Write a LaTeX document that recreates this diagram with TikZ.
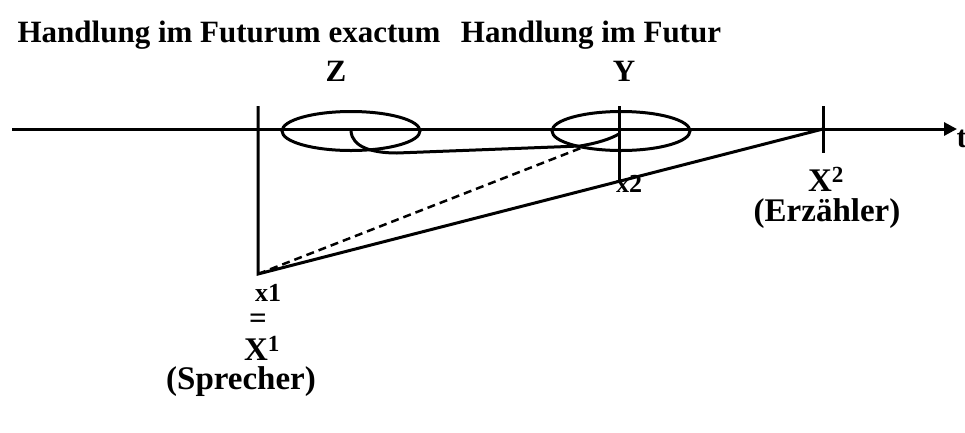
\documentclass[tikz,border=0pt]{standalone}
\usepackage{fontspec}
\setmainfont{Liberation Serif}
\usetikzlibrary{arrows.meta,shapes.geometric}

\begin{document}
\begin{tikzpicture}[x=1pt,y=-1pt,line width=3pt,
    txt/.style={font=\bfseries\fontsize{31}{31}\selectfont,inner sep=0pt},
    gross/.style={font=\bfseries\fontsize{33}{33}\selectfont,inner sep=0pt},
    klein/.style={font=\bfseries\fontsize{26}{26}\selectfont,inner sep=0pt},
    handlung/.style={draw,ellipse,minimum width=138pt,minimum height=39pt,inner sep=0pt}]
    \useasboundingbox (0,0) rectangle (965,432);

    % Zeitachse
    \coordinate (a0) at (12,129);
    \coordinate (a1) at (957,129);
    \draw[-{Triangle[length=13pt,width=13pt]}] (a0) -- (a1);
    \node[txt,anchor=west] (t) at (955,139) {t};

    % Striche und Punkte
    \coordinate (top1) at (258,106);
    \coordinate (x1) at (258,274);
    \coordinate (topY) at (619,106);
    \coordinate (x2) at (619,181);
    \coordinate (top2) at (823,106);
    \coordinate (X2) at (823,129);
    \coordinate (bot2) at (823,153);

    % Handlungen Z und Y
    \node[handlung] (Zell) at (351,131) {};
    \node[handlung] (Yell) at (621,131) {};
    \coordinate (k1) at (397,153);
    \coordinate (k2) at (580,146);
    \coordinate (k3) at (619,134);

    \draw (top1) -- (x1) -- (X2);
    \draw (top2) -- (bot2);
    \draw (topY) -- (x2);
    \draw[dash pattern=on 8pt off 5pt,line width=2.5pt] (x1) -- (Yell.203);
    \draw (Zell.center) .. controls (352,147) and (372,153) .. (k1) -- (k2)
        .. controls (598,143) and (610,139) .. (k3);

    % Beschriftungen
    \node[txt] (h1) at (229,35) {Handlung im Futurum exactum};
    \node[txt] (h2) at (591,35) {Handlung im Futur};
    \node[txt] (Z) at (336,71) {Z};
    \node[txt] (Y) at (624,71) {Y};
    \node[klein] (lx2) at (629,184) {x2};
    \node[gross] (lX2) at (826,179) {X\textsuperscript{2}};
    \node[gross] (erz) at (827,214) {(Erzähler)};
    \node[klein] (lx1) at (268,293) {x1};
    \node[txt] (gl) at (258,321) {=};
    \node[gross] (lX1) at (262,348) {X\textsuperscript{1}};
    \node[gross] (spr) at (241,382) {(Sprecher)};
\end{tikzpicture}
\end{document}
